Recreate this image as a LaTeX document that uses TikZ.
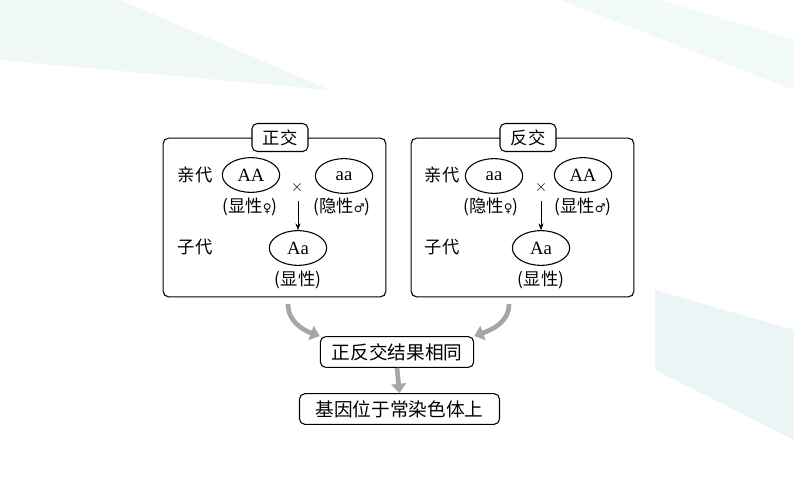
\documentclass[tikz,border=0pt]{standalone}
\usepackage{fontspec}
\setmainfont{Liberation Serif}
\newfontfamily\cjk{Noto Sans CJK SC}
\usetikzlibrary{arrows.meta,shapes.geometric}
\begin{document}
\begin{tikzpicture}[x=0.75pt,y=-0.75pt,
  frame/.style={draw,thick,rounded corners=4pt},
  tag/.style={draw,thick,rounded corners=4pt,fill=white,minimum width=42pt,minimum height=21pt,inner sep=1pt,font=\cjk\fontsize{13}{13}\selectfont},
  gen/.style={draw,thick,ellipse,minimum width=43pt,minimum height=26pt,inner sep=0pt,font=\fontsize{14}{14}\selectfont},
  lbl/.style={font=\cjk\fontsize{13}{13}\selectfont,inner sep=0pt},
  res/.style={draw,thick,rounded corners=4pt,minimum height=23pt,inner sep=3pt,font=\cjk\fontsize{14}{14}\selectfont},
  grey/.style={draw=gray!70,line width=3.5pt,-{Triangle[width=11pt,length=7pt]}}]
\useasboundingbox (0,0) rectangle (794,504);
\fill[white] (0,0) rectangle (794,504);
\fill[teal!6] (0,0) -- (120,0) -- (330,90) -- (0,60) -- cycle;
\fill[teal!8] (655,290) -- (794,330) -- (794,440) -- (655,370) -- cycle;
\fill[teal!5] (560,0) -- (660,0) -- (794,40) -- (794,90) -- cycle;
\fill[white] (155,108) rectangle (643,438);
% left
\node[frame,minimum width=167pt,minimum height=119pt] (L) at (274.5,217.5) {};
\node[tag] (Lt) at (280,137.5) {正交};
\node[lbl] (Lp) at (195,175) {亲代};
\node[lbl] (Lc) at (195,247) {子代};
\node[gen] (LAA) at (251,175) {AA};
\node[gen] (Laa) at (344,176) {aa};
\node[gen] (LAa) at (298,248) {Aa};
\node[lbl] (Lf) at (250,207) {(显性{\fontspec{DejaVu Sans}\small ♀})};
\node[lbl] (Lm) at (342,207) {(隐性{\fontspec{DejaVu Sans}\small ♂})};
\node[font=\fontsize{13}{13}\selectfont] (Lx) at (297,187) {$\times$};
\node[lbl] (Ld) at (298,280) {(显性)};
\coordinate (La) at (298,201);
\draw[-{Stealth[length=5pt]}] (La) -- (LAa.north);
% right
\node[frame,minimum width=167pt,minimum height=119pt] (R) at (522.5,217.5) {};
\node[tag] (Rt) at (528,137.5) {反交};
\node[lbl] (Rp) at (442,175) {亲代};
\node[lbl] (Rc) at (442,247) {子代};
\node[gen] (Raa) at (494,176) {aa};
\node[gen] (RAA) at (583,175) {AA};
\node[gen] (RAa) at (541,248) {Aa};
\node[lbl] (Rf) at (491,207) {(隐性{\fontspec{DejaVu Sans}\small ♀})};
\node[lbl] (Rm) at (583,207) {(显性{\fontspec{DejaVu Sans}\small ♂})};
\node[font=\fontsize{13}{13}\selectfont] (Rx) at (541,187) {$\times$};
\node[lbl] (Rd) at (541,280) {(显性)};
\coordinate (Ra) at (541,201);
\draw[-{Stealth[length=5pt]}] (Ra) -- (RAa.north);
% results
\node[res,minimum width=115pt] (S) at (397,352) {正反交结果相同};
\node[res,minimum width=150pt] (G) at (399.5,409) {基因位于常染色体上};
\coordinate (Lo) at (288,304);
\coordinate (Ro) at (509,304);
\draw[grey] (Lo) to[out=-90,in=160] (S.north west);
\draw[grey] (Ro) to[out=-90,in=20] (S.north east);
\draw[grey] (S.south) -- (G.north);
\end{tikzpicture}
\end{document}
